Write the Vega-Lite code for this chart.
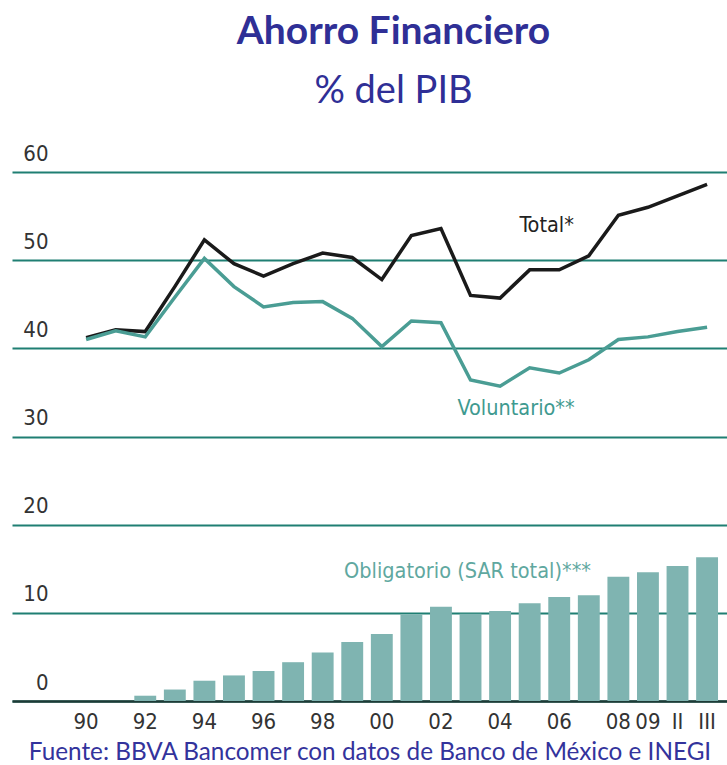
{
  "$schema": "https://vega.github.io/schema/vega-lite/v6.json",
  "width": 715,
  "height": 529,
  "padding": {"left": 12, "right": 0, "top": 13, "bottom": 0},
  "background": "white",
  "title": {
    "text": "Ahorro Financiero",
    "subtitle": "% del PIB",
    "font": "Lato",
    "fontSize": 39,
    "fontWeight": "bold",
    "color": "#2f2f96",
    "subtitleFont": "Lato",
    "subtitleFontSize": 38,
    "subtitleFontWeight": "normal",
    "subtitleColor": "#2f2f96",
    "subtitlePadding": 21,
    "anchor": "middle",
    "dx": 24,
    "offset": 31
  },
  "config": {
    "view": {"stroke": null},
    "font": "Liberation Sans Narrow, DejaVu Sans Condensed, sans-serif"
  },
  "data": {
    "values": [
      {"periodo": "1990", "total": 41.2, "voluntario": 41.0, "obligatorio": null},
      {"periodo": "1991", "total": 42.1, "voluntario": 42.0, "obligatorio": null},
      {"periodo": "1992", "total": 41.9, "voluntario": 41.3, "obligatorio": 0.6},
      {"periodo": "1993", "total": 47.0, "voluntario": 45.8, "obligatorio": 1.3},
      {"periodo": "1994", "total": 52.3, "voluntario": 50.2, "obligatorio": 2.3},
      {"periodo": "1995", "total": 49.6, "voluntario": 47.0, "obligatorio": 2.9},
      {"periodo": "1996", "total": 48.2, "voluntario": 44.7, "obligatorio": 3.4},
      {"periodo": "1997", "total": 49.6, "voluntario": 45.2, "obligatorio": 4.4},
      {"periodo": "1998", "total": 50.8, "voluntario": 45.3, "obligatorio": 5.5},
      {"periodo": "1999", "total": 50.3, "voluntario": 43.4, "obligatorio": 6.7},
      {"periodo": "2000", "total": 47.8, "voluntario": 40.2, "obligatorio": 7.6},
      {"periodo": "2001", "total": 52.8, "voluntario": 43.1, "obligatorio": 9.8},
      {"periodo": "2002", "total": 53.6, "voluntario": 42.9, "obligatorio": 10.7},
      {"periodo": "2003", "total": 46.0, "voluntario": 36.4, "obligatorio": 9.9},
      {"periodo": "2004", "total": 45.7, "voluntario": 35.7, "obligatorio": 10.2},
      {"periodo": "2005", "total": 48.9, "voluntario": 37.8, "obligatorio": 11.1},
      {"periodo": "2006", "total": 48.9, "voluntario": 37.2, "obligatorio": 11.8},
      {"periodo": "2007", "total": 50.5, "voluntario": 38.7, "obligatorio": 12.0},
      {"periodo": "2008", "total": 55.1, "voluntario": 41.0, "obligatorio": 14.1},
      {"periodo": "2009", "total": 56.0, "voluntario": 41.3, "obligatorio": 14.6},
      {"periodo": "II", "total": 57.3, "voluntario": 41.9, "obligatorio": 15.3},
      {"periodo": "III", "total": 58.6, "voluntario": 42.4, "obligatorio": 16.3}
    ]
  },
  "encoding": {
    "x": {
      "field": "periodo",
      "type": "ordinal",
      "sort": null,
      "scale": {
        "domain": ["1988", "1989", "1990", "1991", "1992", "1993", "1994", "1995", "1996", "1997", "1998", "1999", "2000", "2001", "2002", "2003", "2004", "2005", "2006", "2007", "2008", "2009", "II", "III"],
        "paddingInner": 0.26,
        "paddingOuter": 0.22,
        "align": 0.31,
        "round": false
      },
      "axis": {
        "values": ["1990", "1992", "1994", "1996", "1998", "2000", "2002", "2004", "2006", "2008", "2009", "II", "III"],
        "labelExpr": "length(datum.value) == 4 ? substring(datum.value, 2) : datum.value",
        "labelAngle": 0,
        "labelFontSize": 22,
        "labelColor": "#333333",
        "labelPadding": 10,
        "labelBaseline": "top",
        "ticks": false,
        "domain": true,
        "domainColor": "#1d3a36",
        "domainWidth": 2.5,
        "grid": false,
        "title": "Fuente: BBVA Bancomer con datos de Banco de México e INEGI",
        "titleFont": "Lato",
        "titleFontSize": 24.3,
        "titleFontWeight": "normal",
        "titleColor": "#33339c",
        "titlePadding": 8
      }
    }
  },
  "layer": [
    {
      "mark": {"type": "bar", "color": "#7fb4b1"},
      "encoding": {
        "y": {
          "field": "obligatorio",
          "type": "quantitative",
          "scale": {"domain": [0, 60], "nice": false},
          "axis": {
            "values": [0, 10, 20, 30, 40, 50, 60],
            "title": null,
            "domain": false,
            "ticks": false,
            "tickSize": 0,
            "labelAlign": "right",
            "labelPadding": -36,
            "labelBaseline": "middle",
            "labelOffset": -19,
            "labelFontSize": 22,
            "labelColor": "#333333",
            "grid": true,
            "gridColor": "#1f7f73",
            "gridWidth": 2
          }
        }
      }
    },
    {
      "mark": {"type": "line", "color": "#1a1a1a", "strokeWidth": 3.5},
      "encoding": {"y": {"field": "total", "type": "quantitative"}}
    },
    {
      "mark": {"type": "line", "color": "#4a9d94", "strokeWidth": 3.5},
      "encoding": {"y": {"field": "voluntario", "type": "quantitative"}}
    },
    {
      "data": {"values": [{"periodo": "2005", "valor": 53.9, "texto": "Total*"}]},
      "mark": {"type": "text", "fontSize": 21.5, "color": "#222222", "dx": 17, "baseline": "middle"},
      "encoding": {"y": {"field": "valor", "type": "quantitative"}, "text": {"field": "texto"}}
    },
    {
      "data": {"values": [{"periodo": "2004", "valor": 33.1, "texto": "Voluntario**"}]},
      "mark": {"type": "text", "fontSize": 21.5, "color": "#3f9a90", "dx": 16, "baseline": "middle"},
      "encoding": {"y": {"field": "valor", "type": "quantitative"}, "text": {"field": "texto"}}
    },
    {
      "data": {"values": [{"periodo": "2003", "valor": 14.6, "texto": "Obligatorio (SAR total)***"}]},
      "mark": {"type": "text", "fontSize": 21.5, "color": "#5fa8a0", "dx": -3, "baseline": "middle"},
      "encoding": {"y": {"field": "valor", "type": "quantitative"}, "text": {"field": "texto"}}
    }
  ]
}
